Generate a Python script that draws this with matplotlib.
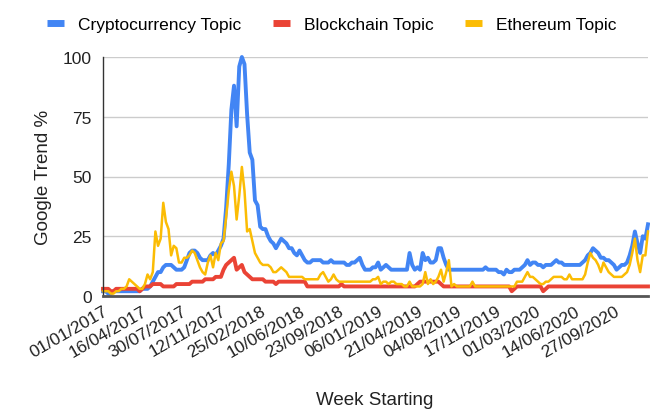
import matplotlib
matplotlib.use("Agg")
import matplotlib.pyplot as plt
from matplotlib.lines import Line2D
import matplotlib.transforms as mtransforms
import numpy as np
import datetime as dt

plt.rcParams['font.family'] = ['Liberation Sans', 'DejaVu Sans']

start = dt.date(2017, 1, 1)
n_weeks = 209
tick_step = 15

crypto = [
    2, 2, 1, 1, 2, 2, 2, 2, 2, 2,
    2, 2, 2, 2, 2, 3, 3, 3, 4, 6,
    8, 10, 10, 12, 13, 13, 13, 12, 11, 11,
    11, 12, 15, 18, 19, 19, 18, 16, 15, 15,
    15, 17, 18, 17, 19, 21, 24, 37, 55, 78,
    88, 71, 96, 100, 97, 76, 60, 57, 40, 38,
    29, 28, 28, 25, 23, 22, 20, 22, 24, 23,
    22, 20, 20, 18, 17, 19, 17, 15, 14, 14,
    15, 15, 15, 15, 14, 14, 14, 15, 14, 14,
    14, 14, 14, 13, 13, 14, 14, 15, 16, 13,
    11, 11, 11, 12, 12, 14, 11, 12, 13, 12,
    11, 11, 11, 11, 11, 11, 11, 18, 13, 11,
    12, 11, 18, 15, 16, 14, 14, 15, 20, 20,
    16, 13, 11, 11, 11, 11, 11, 11, 11, 11,
    11, 11, 11, 11, 11, 11, 12, 11, 11, 11,
    11, 10, 10, 9, 11, 10, 10, 11, 11, 11,
    12, 13, 15, 13, 14, 14, 13, 13, 12, 13,
    13, 13, 14, 15, 14, 14, 13, 13, 13, 13,
    13, 13, 13, 14, 15, 17, 18, 20, 19, 18,
    16, 16, 15, 15, 14, 13, 11, 12, 13, 13,
    14, 17, 21, 27, 22, 18, 25, 24, 30,
]

blockchain = [
    3, 3, 3, 2, 2, 3, 3, 3, 3, 3,
    3, 3, 3, 3, 2, 3, 4, 4, 4, 5,
    5, 5, 5, 4, 4, 4, 4, 4, 5, 5,
    5, 5, 5, 5, 6, 6, 6, 6, 6, 7,
    7, 7, 7, 8, 8, 8, 11, 13, 14, 15,
    16, 11, 12, 13, 10, 9, 8, 7, 7, 7,
    7, 7, 6, 6, 6, 6, 5, 6, 6, 6,
    6, 6, 6, 6, 6, 6, 6, 6, 4, 4,
    4, 4, 4, 4, 4, 4, 4, 4, 4, 4,
    4, 5, 4, 4, 4, 4, 4, 4, 4, 4,
    4, 4, 4, 4, 4, 4, 4, 4, 4, 4,
    4, 4, 4, 4, 4, 4, 4, 4, 4, 4,
    5, 6, 6, 6, 6, 6, 6, 6, 6, 5,
    4, 4, 4, 4, 4, 4, 4, 4, 4, 4,
    4, 4, 4, 4, 4, 4, 4, 4, 4, 4,
    4, 4, 4, 4, 4, 4, 2, 3, 4, 4,
    4, 4, 4, 4, 4, 4, 4, 4, 2, 3,
    4, 4, 4, 4, 4, 4, 4, 4, 4, 4,
    4, 4, 4, 4, 4, 4, 4, 4, 4, 4,
    4, 4, 4, 4, 4, 4, 4, 4, 4, 4,
    4, 4, 4, 4, 4, 4, 4, 4, 4,
]

ethereum = [
    2, 2, 2, 1, 1, 2, 2, 3, 3, 4,
    7, 6, 5, 4, 3, 3, 5, 9, 7, 10,
    27, 21, 24, 39, 31, 28, 17, 21, 20, 14,
    14, 16, 16, 17, 19, 18, 15, 12, 10, 9,
    14, 17, 12, 18, 15, 22, 23, 33, 44, 52,
    46, 32, 42, 54, 44, 27, 28, 23, 18, 16,
    14, 13, 13, 13, 12, 10, 10, 11, 12, 11,
    10, 8, 8, 8, 8, 8, 8, 7, 7, 7,
    7, 7, 7, 9, 10, 8, 6, 7, 9, 7,
    6, 6, 6, 6, 6, 6, 6, 6, 6, 6,
    6, 6, 6, 7, 7, 8, 5, 6, 6, 5,
    6, 6, 5, 5, 5, 4, 4, 6, 4, 4,
    4, 4, 5, 10, 5, 7, 5, 6, 8, 11,
    6, 10, 15, 4, 5, 4, 4, 4, 4, 4,
    4, 6, 4, 4, 4, 4, 4, 4, 4, 4,
    4, 4, 4, 4, 4, 4, 4, 4, 6, 6,
    6, 8, 10, 8, 8, 7, 6, 5, 5, 6,
    6, 7, 8, 8, 8, 8, 7, 7, 9, 7,
    7, 7, 7, 7, 9, 14, 18, 16, 15, 13,
    10, 14, 12, 10, 9, 8, 8, 8, 8, 9,
    10, 13, 18, 24, 15, 10, 17, 17, 27,
]

series_names = ["Cryptocurrency Topic", "Blockchain Topic", "Ethereum Topic"]
colors = ["#4285F4", "#EA4335", "#FBBC04"]

x = np.arange(n_weeks)
tick_idx = list(range(0, n_weeks, tick_step))[:14]
tick_labels = [(start + dt.timedelta(weeks=i)).strftime("%d/%m/%Y") for i in tick_idx]

fig = plt.figure(figsize=(6.5, 4.1), dpi=100)
ax = fig.add_axes([103/650, 1-297/410, (648-103)/650, (297-58)/410])

for data, c, lw in zip([crypto, blockchain, ethereum], colors, [2.8, 2.8, 1.8]):
    ax.plot(x, data, color=c, lw=lw, solid_joinstyle='round', clip_on=False)

ax.set_xlim(0, n_weeks - 1)
ax.set_ylim(0, 100)
ax.set_yticks([0, 25, 50, 75, 100])
ax.yaxis.grid(True, color="#cccccc", lw=1)
ax.set_axisbelow(True)
for s in ['top', 'right']:
    ax.spines[s].set_visible(False)
ax.spines['left'].set_color('#333333')
ax.spines['left'].set_linewidth(1)
ax.spines['bottom'].set_color('#555555')
ax.spines['bottom'].set_linewidth(2)
ax.set_xticks(tick_idx)
ax.set_xticklabels(tick_labels, rotation=30, ha='right', rotation_mode='anchor', fontsize=12.5, color='#222222')
offset = mtransforms.ScaledTranslation(8/100, 0, fig.dpi_scale_trans)
for lab in ax.get_xticklabels():
    lab.set_transform(lab.get_transform() + offset)
ax.tick_params(axis='x', length=0, pad=5)
ax.tick_params(axis='y', length=0, pad=8, labelsize=12.5, labelcolor='#222222')
ax.set_ylabel("Google Trend %", fontsize=13.5, color='#222222', labelpad=8)
fig.text(375/650, 1-401/410, "Week Starting", ha='center', va='center', fontsize=13.5, color='#222222')

handles = [Line2D([0], [0], color=c, lw=5, solid_capstyle='butt') for c in colors]
fig.legend(handles, series_names, loc='center', bbox_to_anchor=(332/650, 1-25/410), ncol=3,
           frameon=False, fontsize=12.5, handlelength=1.0, handletextpad=0.8, columnspacing=1.8)

fig.savefig("out.png", dpi=100)
